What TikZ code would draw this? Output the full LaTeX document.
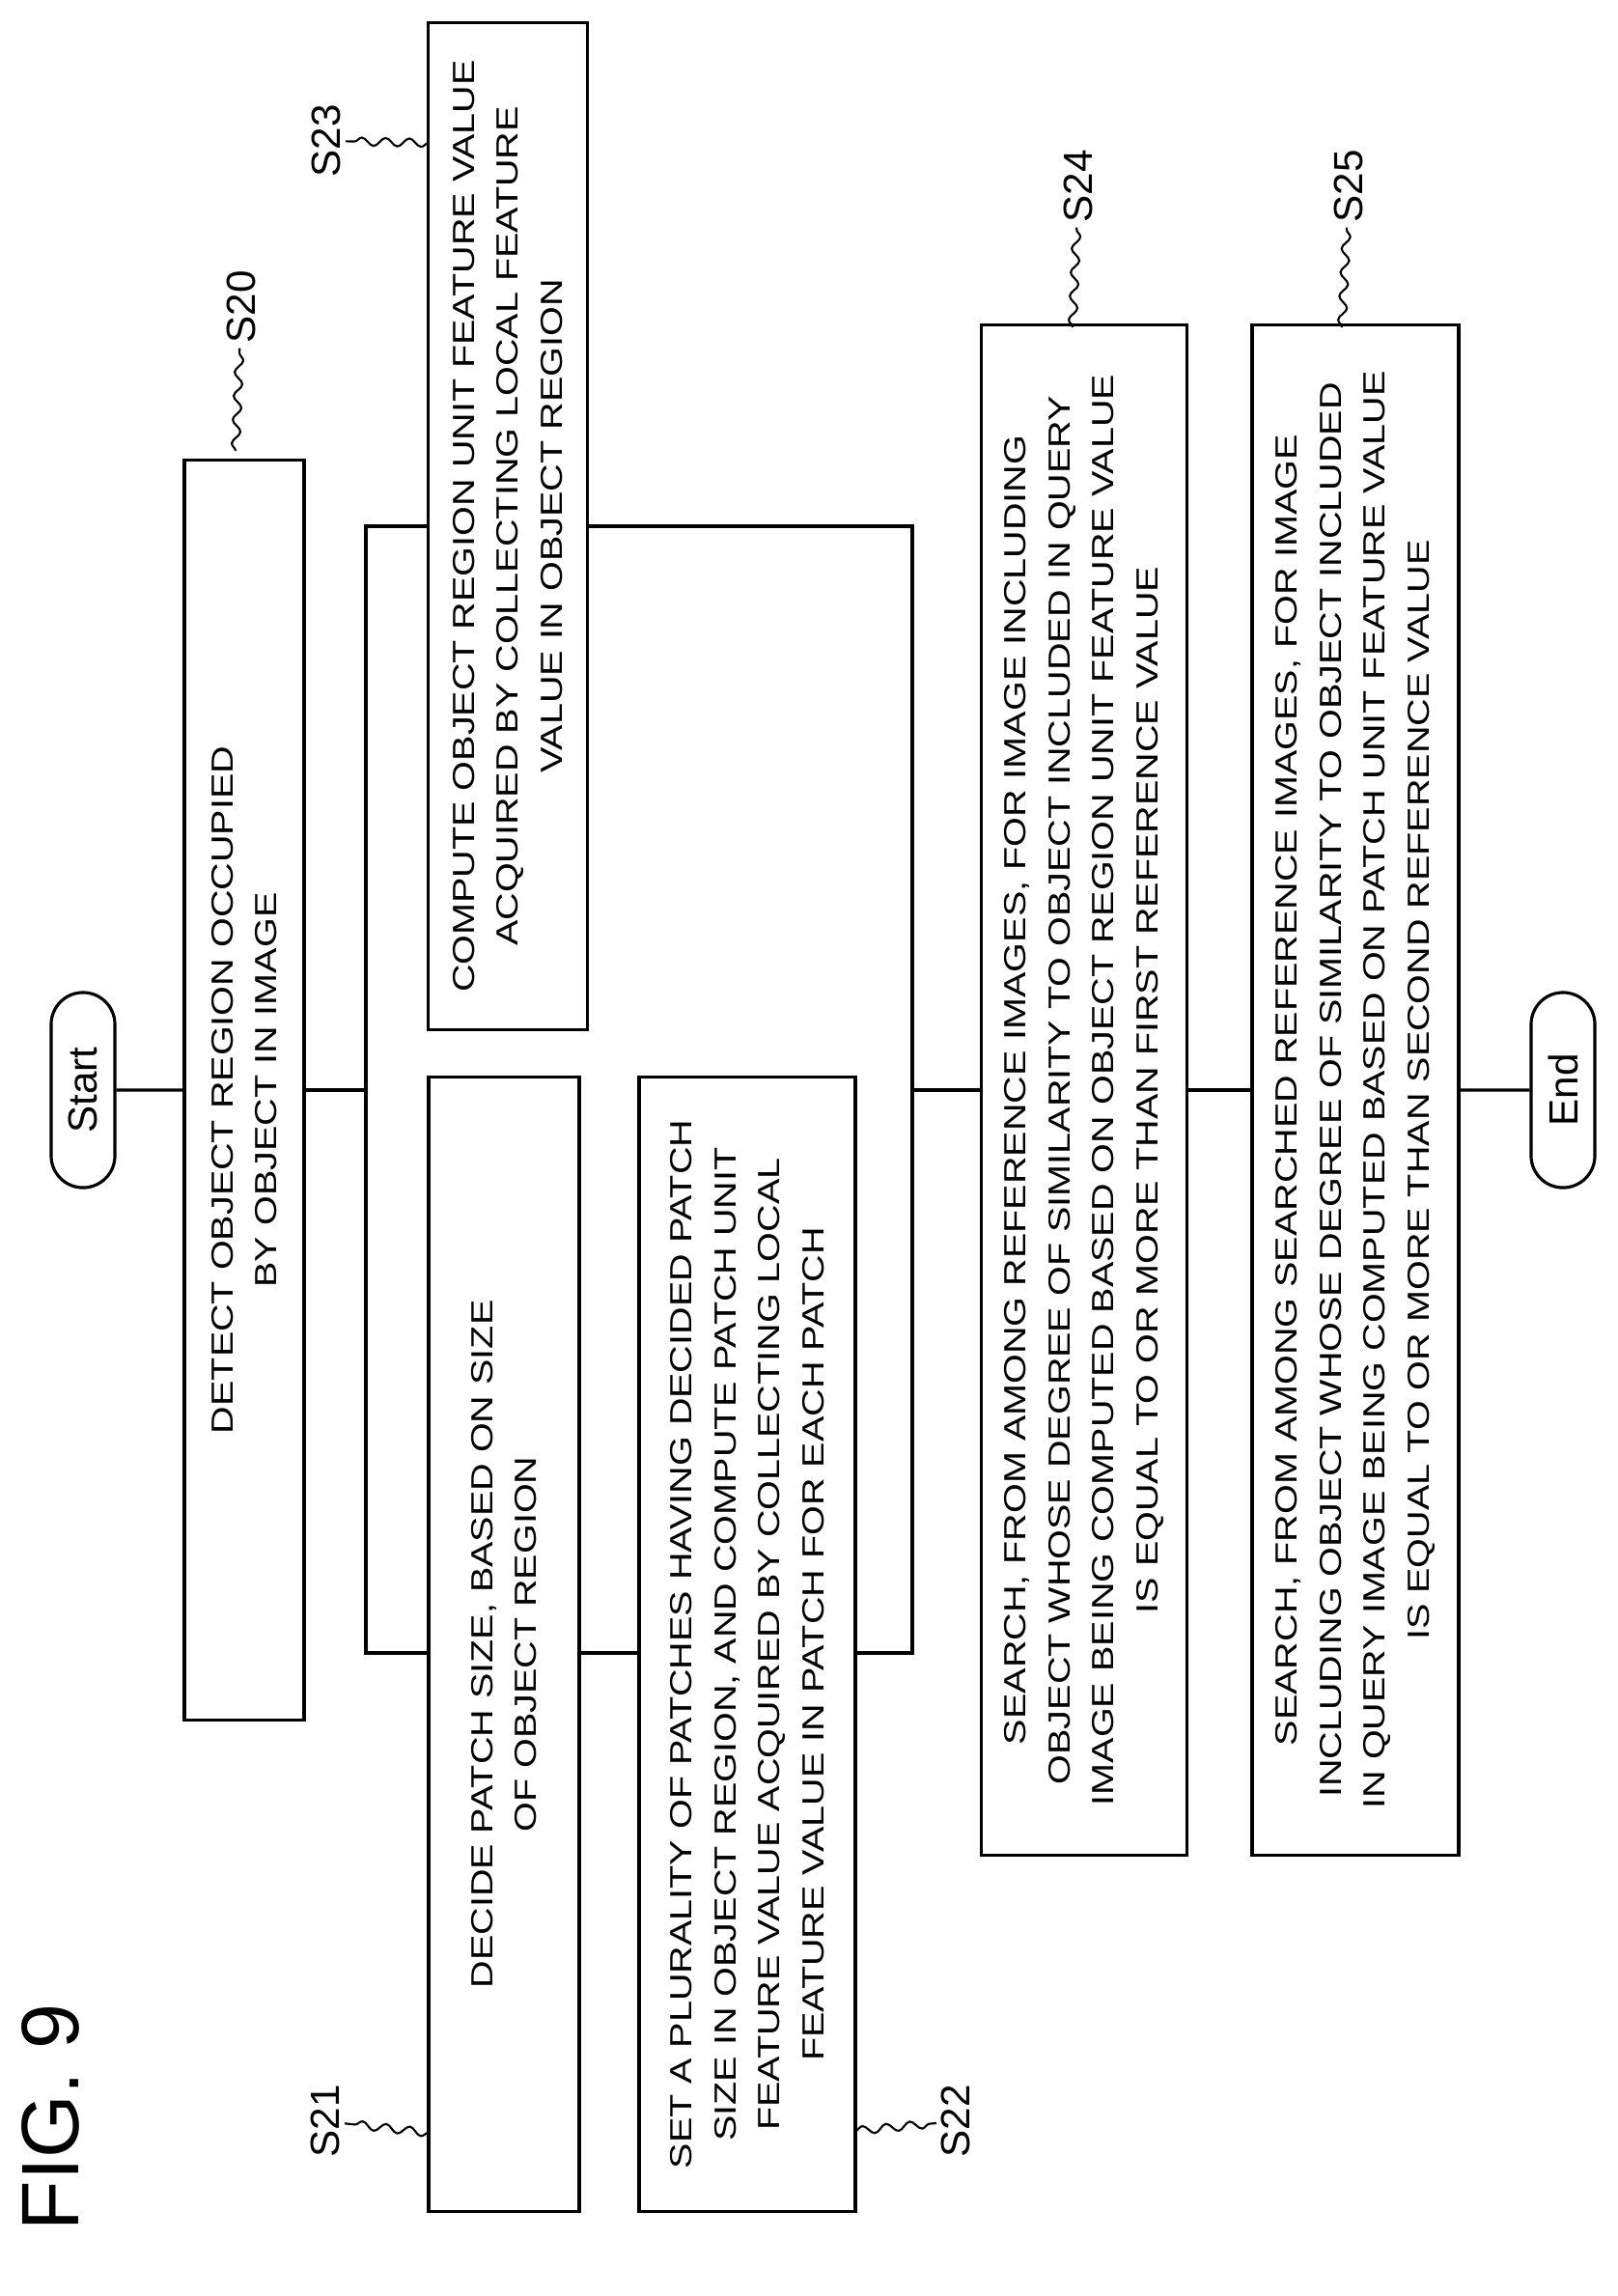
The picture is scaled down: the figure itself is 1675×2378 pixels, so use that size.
\documentclass[tikz,border=0pt]{standalone}
\usepackage{fontspec}
\setmainfont{Liberation Sans}
\newfontfamily\boxfont[FakeStretch=1.25]{Liberation Sans}
\usetikzlibrary{positioning, shapes.misc, decorations.pathmorphing}

\tikzset{
  stepbox/.style={draw, rotate=90, align=center, inner sep=0pt,
    font=\boxfont\fontsize{9}{13}\selectfont},
  terminal/.style={draw, rounded rectangle, rotate=90, inner sep=0pt,
    minimum width=2.02cm, minimum height=0.66cm, font=\fontsize{12}{14}\selectfont},
  steptag/.style={rotate=90, inner sep=1pt, font=\fontsize{12}{14}\selectfont},
  leader/.style={decorate, decoration={snake, amplitude=1.2pt, segment length=7pt}, line width=0.6pt}
}

\begin{document}
\begin{tikzpicture}
	[x=0.01cm, y=-0.01cm, line width=0.9pt]
   \useasboundingbox (0,0) rectangle (1675,2378);
   \node[rotate=90, font=\fontsize{24}{28}\selectfont] (fig) at (52,2193) {FIG. 9};

   \node[terminal] (start) at (86,1129) {Start};
   \node[stepbox, minimum width=13.04cm, minimum height=1.24cm] (s20) at (253,1129)
        {DETECT OBJECT REGION OCCUPIED\\BY OBJECT IN IMAGE};
   \node[stepbox, minimum width=10.43cm, minimum height=1.65cm] (s23) at (526,545)
        {COMPUTE OBJECT REGION UNIT FEATURE VALUE\\ACQUIRED BY COLLECTING LOCAL FEATURE\\VALUE IN OBJECT REGION};
   \node[stepbox, minimum width=11.74cm, minimum height=1.56cm] (s21) at (522,1703)
        {DECIDE PATCH SIZE, BASED ON SIZE\\OF OBJECT REGION};
   \node[stepbox, minimum width=11.74cm, minimum height=2.24cm] (s22) at (774,1703)
        {SET A PLURALITY OF PATCHES HAVING DECIDED PATCH\\SIZE IN OBJECT REGION, AND COMPUTE PATCH UNIT\\FEATURE VALUE ACQUIRED BY COLLECTING LOCAL\\FEATURE VALUE IN PATCH FOR EACH PATCH};
   \node[stepbox, minimum width=15.84cm, minimum height=2.13cm] (s24) at (1123,1129)
        {SEARCH, FROM AMONG REFERENCE IMAGES, FOR IMAGE INCLUDING\\OBJECT WHOSE DEGREE OF SIMILARITY TO OBJECT INCLUDED IN QUERY\\IMAGE BEING COMPUTED BASED ON OBJECT REGION UNIT FEATURE VALUE\\IS EQUAL TO OR MORE THAN FIRST REFERENCE VALUE};
   \node[stepbox, minimum width=15.84cm, minimum height=2.14cm] (s25) at (1404,1129)
        {SEARCH, FROM AMONG SEARCHED REFERENCE IMAGES, FOR IMAGE\\INCLUDING OBJECT WHOSE DEGREE OF SIMILARITY TO OBJECT INCLUDED\\IN QUERY IMAGE BEING COMPUTED BASED ON PATCH UNIT FEATURE VALUE\\IS EQUAL TO OR MORE THAN SECOND REFERENCE VALUE};
   \node[terminal] (finish) at (1619,1129) {End};

   % branch and join points
   \coordinate (split) at (379,1129);
   \coordinate (sTop) at (379,545);
   \coordinate (sBot) at (379,1712);
   \coordinate (join) at (945,1129);
   \coordinate (jTop) at (945,545);
   \coordinate (jBot) at (945,1712);

   \draw (start) -- (s20);
   \draw (s20) -- (split);
   \draw (s23.north |- sTop) -- (sTop) -- (sBot) -- (s21.north |- sBot);
   \draw (s21.south |- sBot) -- (s22.north |- sBot);
   \draw (s22.south |- jBot) -- (jBot) -- (jTop) -- (s23.south |- jTop);
   \draw (join) -- (s24);
   \draw (s24) -- (s25);
   \draw (s25) -- (finish);

   % step tags
   \node[steptag] (t20) at (250,318) {S20};
   \node[steptag] (t23) at (338,146) {S23};
   \node[steptag] (t21) at (337,2197) {S21};
   \node[steptag] (t22) at (990,2197) {S22};
   \node[steptag] (t24) at (1117,193) {S24};
   \node[steptag] (t25) at (1397,193) {S25};
   \coordinate (c20) at (244,467);
   \coordinate (c23) at (444,148);
   \coordinate (c21) at (444,2209);
   \coordinate (c22) at (886,2207);
   \coordinate (c24) at (1111,339);
   \coordinate (c25) at (1390,339);
   \draw[leader] (c20) -- (t20);
   \draw[leader] (c23) -- (t23);
   \draw[leader] (c21) -- (t21);
   \draw[leader] (c22) -- (t22);
   \draw[leader] (c24) -- (t24);
   \draw[leader] (c25) -- (t25);
\end{tikzpicture}
\end{document}
